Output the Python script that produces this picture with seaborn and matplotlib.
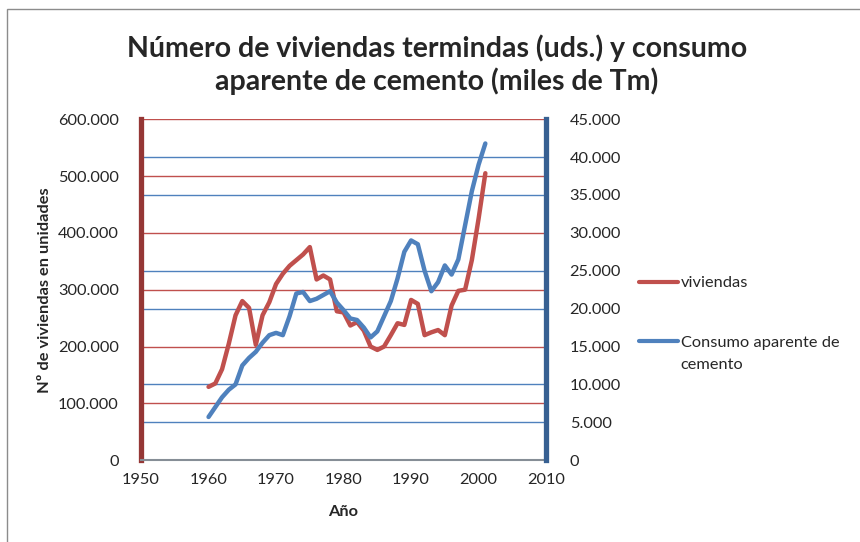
import matplotlib
matplotlib.use("Agg")
import matplotlib.pyplot as plt
import matplotlib.transforms as mtransforms
from matplotlib.ticker import FuncFormatter
from matplotlib.lines import Line2D
from matplotlib.patches import Rectangle
import seaborn as sns
import numpy as np
import pandas as pd

# data
years = list(range(1960, 2002))
viviendas = [129000, 135000, 160000, 205000, 255000, 280000, 268000, 203000, 255000, 278000,
             310000, 328000, 342000, 352000, 362000, 375000, 318000, 325000, 318000, 262000,
             260000, 237000, 243000, 228000, 200000, 194000, 200000, 220000, 241000, 238000,
             282000, 275000, 220000, 225000, 229000, 220000, 272000, 298000, 300000, 352000,
             425000, 505000]
cemento = [5700, 7000, 8300, 9300, 10000, 12500, 13500, 14300, 15500, 16500,
           16800, 16500, 19000, 22000, 22200, 21000, 21300, 21800, 22300, 20800,
           19800, 18700, 18500, 17500, 16200, 17000, 19000, 21000, 24000, 27500,
           29000, 28500, 25000, 22300, 23500, 25700, 24500, 26500, 31000, 35500,
           39000, 41800]
left_ticks = [0, 100000, 200000, 300000, 400000, 500000, 600000]
right_ticks = [0, 5000, 10000, 15000, 20000, 25000, 30000, 35000, 40000, 45000]
x_ticks = [1950, 1960, 1970, 1980, 1990, 2000, 2010]

df = pd.DataFrame({"year": years, "viviendas": viviendas, "cemento": cemento})

RED = "#C0504D"
BLUE = "#4F81BD"
FS = 11.8

sns.set_style("white")
plt.rcParams["font.family"] = ["Lato", "DejaVu Sans"]

fig = plt.figure(figsize=(8.6, 5.42), dpi=100)
fig.subplots_adjust(left=0.164, right=0.635, bottom=0.151, top=0.780)
ax = fig.add_subplot(111)
ax2 = ax.twinx()

ax.set_xlim(1950, 2010)
ax.set_ylim(0, 600000)
ax2.set_ylim(0, 45000)

# gridlines (both sets drawn behind the series)
for t in left_ticks[1:]:
    ax.axhline(t, color=RED, lw=1.0, zorder=0.5)
btrans = mtransforms.blended_transform_factory(ax.transAxes, ax2.transData)
ax.hlines([t for t in right_ticks[1:] if t % 15000 != 0], 0, 1, colors=BLUE,
          lw=1.0, transform=btrans, zorder=0.5)

sns.lineplot(data=df, x="year", y="viviendas", ax=ax, color=RED, lw=3.2,
             solid_joinstyle="round", solid_capstyle="round", zorder=2)
sns.lineplot(data=df, x="year", y="cemento", ax=ax2, color=BLUE, lw=3.2,
             solid_joinstyle="round", solid_capstyle="round", zorder=2)

fmt = FuncFormatter(lambda v, p: f"{int(round(v)):,}".replace(",", "."))
ax.set_yticks(left_ticks)
ax.yaxis.set_major_formatter(fmt)
ax2.set_yticks(right_ticks)
ax2.yaxis.set_major_formatter(fmt)
ax.set_xticks(x_ticks)

ax.tick_params(axis="y", length=0, pad=16, labelsize=FS)
ax2.tick_params(axis="y", length=0, pad=17, labelsize=FS)
ax.tick_params(axis="x", length=0, pad=9, labelsize=FS)

ax.set_xlabel("Año", fontsize=FS, fontweight="bold", labelpad=13)
ax.set_ylabel("Nº de viviendas en unidades", fontsize=FS, fontweight="bold", labelpad=4)
ax2.set_ylabel("")

for s in ["top", "right"]:
    ax.spines[s].set_visible(False)
for s in ["top", "left", "bottom"]:
    ax2.spines[s].set_visible(False)
ax.spines["left"].set_color("#953735")
ax.spines["left"].set_linewidth(3.8)
ax2.spines["right"].set_color("#376092")
ax2.spines["right"].set_linewidth(3.8)
ax.spines["bottom"].set_color("#868E96")
ax.spines["bottom"].set_linewidth(1.5)

fig.text(437 / 860, 1 - 65 / 542,
         "Número de viviendas termindas (uds.) y consumo\naparente de cemento (miles de Tm)",
         ha="center", va="center", fontsize=20.5, fontweight="bold", linespacing=1.25)

handles = [Line2D([], [], color=RED, lw=3), Line2D([], [], color=BLUE, lw=3)]
leg = fig.legend(handles, ["viviendas", "Consumo aparente de"],
                 loc="upper left", bbox_to_anchor=(639 / 860, 1 - 276 / 542),
                 frameon=False, fontsize=FS, handlelength=2.4, handletextpad=0.15,
                 labelspacing=2.75, borderpad=0, borderaxespad=0)

# second line of the wrapped legend label, under "Consumo aparente de"
fig.canvas.draw()
bb = leg.get_texts()[1].get_window_extent().transformed(fig.transFigure.inverted())
fig.text(bb.x0, bb.y0 - 22 / 542, "cemento", fontsize=FS, ha="left", va="bottom")

fig.patches.append(Rectangle((7 / 860, -0.05), 1.2, 1 - 9 / 542 + 0.05,
                             transform=fig.transFigure, fill=False,
                             edgecolor="#8C8C8C", lw=1))

fig.savefig("out.png", dpi=100)
